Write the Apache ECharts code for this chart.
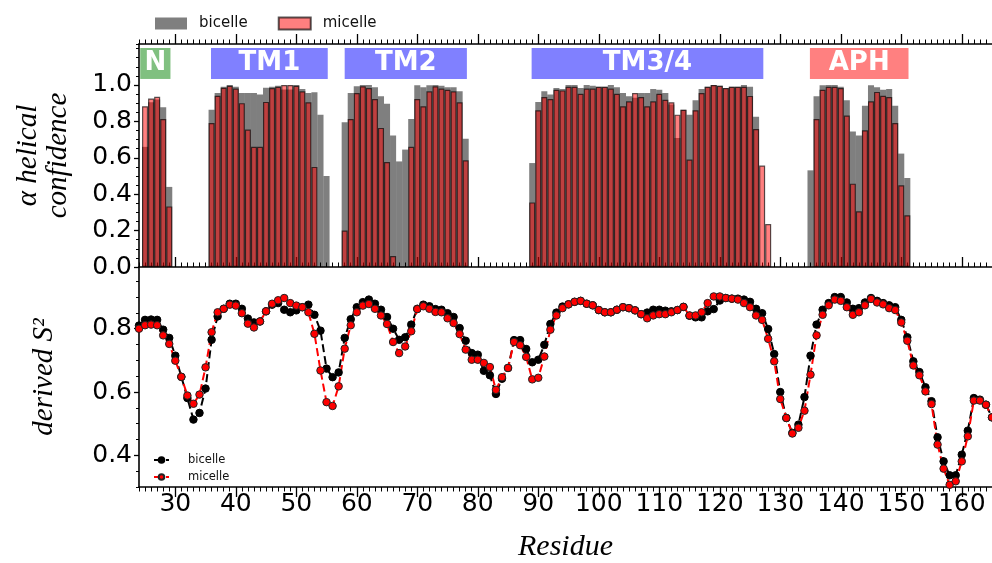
<!DOCTYPE html>
<html>
<head>
<meta charset="utf-8">
<script src="https://cdn.jsdelivr.net/npm/echarts@6/dist/echarts.min.js"></script>
<style>
  html, body { margin: 0; padding: 0; background: #fff; }
  #chart { width: 992px; height: 563px; }
</style>
</head>
<body>
<div id="chart"></div>
<script>
// ---- helical confidence per residue (top panel) ----
const helixResidues = [
  25, 26, 27, 28, 29,
  36, 37, 38, 39, 40, 41, 42, 43, 44, 45, 46, 47, 48, 49, 50, 51, 52, 53, 54, 55,
  58, 59, 60, 61, 62, 63, 64, 65, 66, 67, 68, 69, 70, 71, 72, 73, 74, 75, 76, 77, 78,
  89, 90, 91, 92, 93, 94, 95, 96, 97, 98, 99, 100, 101, 102, 103, 104, 105, 106, 107, 108,
  109, 110, 111, 112, 113, 114, 115, 116, 117, 118, 119, 120, 121, 122, 123, 124, 125, 126, 127, 128,
  135, 136, 137, 138, 139, 140, 141, 142, 143, 144, 145, 146, 147, 148, 149, 150, 151
];
const bicelleHelix = [
  0.66, 0.905, 0.92, 0.877, 0.44,
  0.864, 0.956, 0.99, 1.0, 0.99, 0.956, 0.956, 0.956, 0.947, 0.985, 0.99, 0.995, 0.975, 0.975, 1.0, 0.978, 0.956, 0.96, 0.837, 0.50,
  0.795, 0.956, 0.993, 1.0, 1.0, 0.987, 0.938, 0.897, 0.723, 0.58, 0.645, 0.813, 0.998, 0.987, 0.998, 1.0, 0.996, 0.987, 0.987, 0.965, 0.705,
  0.571, 0.907, 0.965, 0.947, 0.983, 0.978, 1.0, 1.0, 0.983, 1.0, 0.995, 0.99, 0.99, 1.0, 0.987, 0.956, 0.938, 0.93, 0.956, 0.956,
  0.978, 0.974, 0.956, 0.892, 0.709, 0.864, 0.837, 0.916, 0.978, 0.99, 1.0, 0.995, 0.983, 0.99, 0.99, 1.0, 0.99, 0.825, null, null,
  0.531, 0.938, 0.998, 1.0, 1.0, 0.99, 0.916, 0.745, 0.723, 0.886, 0.998, 0.987, 0.974, 0.978, 0.886, 0.623, 0.489
];
const micelleHelix = [
  0.883, 0.925, 0.935, 0.813, 0.333,
  0.791, 0.941, 0.985, 0.995, 0.98, 0.90, 0.755, 0.66, 0.66, 0.907, 0.983, 0.99, 1.0, 1.0, 0.995, 0.965, 0.905, 0.55, null, null,
  0.20, 0.813, 0.956, 0.993, 0.983, 0.923, 0.764, 0.577, 0.06, null, null, 0.66, 0.923, 0.883, 0.965, 0.993, 0.98, 0.974, 0.965, 0.905, 0.586,
  0.355, 0.861, 0.934, 0.923, 0.974, 0.97, 0.99, 0.99, 0.952, 0.98, 0.98, 0.99, 0.99, 0.98, 0.952, 0.883, 0.91, 0.956, 0.934, 0.883,
  0.91, 0.952, 0.919, 0.905, 0.837, 0.864, 0.59, 0.861, 0.956, 0.99, 1.0, 0.995, 0.983, 0.99, 0.99, 0.99, 0.94, 0.758, 0.557, 0.236,
  null, 0.813, 0.974, 0.99, 0.99, 0.983, 0.832, 0.458, 0.306, 0.751, 0.91, 0.962, 0.941, 0.934, 0.791, 0.449, 0.284
];

// ---- domain annotations ----
const domainNames = ['N', 'TM1', 'TM2', 'TM3/4', 'APH'];
const domainStart = [24.2, 35.9, 58.0, 88.9, 134.9];
const domainEnd = [29.2, 55.2, 78.2, 127.2, 151.2];
const domainColors = ['#80c080', '#8080ff', '#8080ff', '#8080ff', '#ff8080'];
const domainBottom = 1.033;
const domainTop = 1.203;

// ---- derived order parameter (bottom panel), residues 24..165 ----
const s2FirstResidue = 24;
const bicelleS2 = [
  0.81, 0.828, 0.829, 0.828, 0.797, 0.771, 0.715, 0.648, 0.581, 0.513,
  0.534, 0.611, 0.765, 0.839, 0.863, 0.879, 0.879, 0.863, 0.832, 0.82,
  0.823, 0.855, 0.876, 0.881, 0.86, 0.852, 0.858, 0.868, 0.876, 0.844,
  0.794, 0.674, 0.647, 0.662, 0.771, 0.83, 0.868, 0.884, 0.892, 0.879,
  0.86, 0.837, 0.8, 0.765, 0.773, 0.813, 0.863, 0.876, 0.871, 0.862,
  0.86, 0.849, 0.837, 0.802, 0.762, 0.723, 0.718, 0.667, 0.653, 0.594,
  0.642, 0.676, 0.764, 0.764, 0.736, 0.694, 0.702, 0.749, 0.815, 0.851,
  0.87, 0.877, 0.885, 0.888, 0.879, 0.874, 0.859, 0.852, 0.852, 0.86,
  0.868, 0.865, 0.858, 0.846, 0.851, 0.86, 0.86, 0.857, 0.855, 0.859,
  0.869, 0.841, 0.836, 0.836, 0.855, 0.862, 0.889, 0.897, 0.895, 0.895,
  0.892, 0.885, 0.863, 0.849, 0.799, 0.72, 0.6, 0.518, 0.471, 0.497,
  0.584, 0.715, 0.813, 0.86, 0.881, 0.9, 0.9, 0.883, 0.863, 0.865,
  0.883, 0.897, 0.888, 0.881, 0.874, 0.868, 0.828, 0.773, 0.697, 0.663,
  0.615, 0.571, 0.457, 0.381, 0.337, 0.337, 0.402, 0.478, 0.581, 0.576,
  0.56, 0.52
];
const micelleS2 = [
  0.80, 0.811, 0.813, 0.811, 0.779, 0.752, 0.699, 0.648, 0.589, 0.563,
  0.592, 0.678, 0.789, 0.852, 0.863, 0.876, 0.873, 0.849, 0.816, 0.804,
  0.823, 0.855, 0.879, 0.89, 0.897, 0.881, 0.873, 0.868, 0.852, 0.784,
  0.668, 0.568, 0.556, 0.618, 0.737, 0.811, 0.852, 0.873, 0.878, 0.863,
  0.842, 0.815, 0.758, 0.723, 0.744, 0.792, 0.862, 0.871, 0.863, 0.853,
  0.852, 0.833, 0.818, 0.783, 0.734, 0.702, 0.702, 0.692, 0.679, 0.607,
  0.647, 0.676, 0.758, 0.748, 0.711, 0.64, 0.645, 0.712, 0.797, 0.842,
  0.865, 0.877, 0.885, 0.888, 0.879, 0.874, 0.859, 0.852, 0.852, 0.86,
  0.868, 0.865, 0.858, 0.846, 0.833, 0.842, 0.846, 0.846, 0.852, 0.859,
  0.869, 0.842, 0.842, 0.852, 0.881, 0.902, 0.902, 0.897, 0.895, 0.892,
  0.881, 0.868, 0.842, 0.828, 0.768, 0.697, 0.578, 0.518, 0.469, 0.487,
  0.541, 0.655, 0.779, 0.844, 0.874, 0.892, 0.888, 0.868, 0.844, 0.852,
  0.874, 0.894, 0.883, 0.877, 0.865, 0.859, 0.82, 0.762, 0.684, 0.653,
  0.602, 0.562, 0.434, 0.358, 0.307, 0.318, 0.381, 0.46, 0.573, 0.573,
  0.56, 0.52
];

// ---- tick labels ----
const residueTicks = [30, 40, 50, 60, 70, 80, 90, 100, 110, 120, 130, 140, 150, 160];
const helixTicks = [0, 0.2, 0.4, 0.6, 0.8, 1.0];
const s2Ticks = [0.4, 0.6, 0.8];

const residueMin = 24, residueMax = 165;

function barPairs(values) {
  const out = [];
  helixResidues.forEach((r, i) => { if (values[i] !== null) out.push([r, values[i]]); });
  return out;
}
function s2Pairs(values) {
  return values.map((v, i) => [s2FirstResidue + i, v]);
}

const black = '#000';
const lineW = 1.6;
const tickFont = { fontFamily: 'DejaVu Sans', fontSize: 25, color: '#000' };
const mathFont = { fontFamily: 'Liberation Serif', fontStyle: 'italic', color: '#000' };

function xMajor(grid, pos, labels) {
  return {
    gridIndex: grid, type: 'value', position: pos, min: residueMin, max: residueMax,
    axisLine: { show: true, onZero: false, lineStyle: { color: black, width: lineW } },
    axisTick: { show: true, inside: false, length: 10, customValues: residueTicks, lineStyle: { color: black, width: 1.3 } },
    axisLabel: labels ? Object.assign({ show: true, margin: 5, customValues: residueTicks }, tickFont) : { show: false },
    splitLine: { show: false }
  };
}
function xMinor(grid, pos) {
  return {
    gridIndex: grid, type: 'value', position: pos, min: residueMin, max: residueMax, interval: 1,
    axisLine: { show: false, onZero: false },
    axisTick: { show: true, inside: false, length: 4.5, lineStyle: { color: black, width: 1 } },
    axisLabel: { show: false }, splitLine: { show: false }
  };
}
function yMinor(grid, min, max) {
  return {
    gridIndex: grid, type: 'value', position: 'left', min: min, max: max, interval: 0.05,
    axisLine: { show: false, onZero: false },
    axisTick: { show: true, inside: false, length: 3, lineStyle: { color: black, width: 1 } },
    axisLabel: { show: false }, splitLine: { show: false }
  };
}

const option = {
  animation: false,
  backgroundColor: '#fff',
  grid: [
    { left: 139, top: 44, width: 854, height: 223 },
    { left: 139, top: 267, width: 854, height: 222 }
  ],
  xAxis: [
    xMajor(0, 'top', false),
    xMinor(0, 'top'),
    Object.assign(xMajor(1, 'bottom', true), {
      name: 'Residue', nameLocation: 'middle', nameGap: 45,
      nameTextStyle: Object.assign({ fontSize: 30 }, mathFont)
    }),
    xMinor(1, 'bottom'),
    xMajor(1, 'top', false),
    xMinor(1, 'top')
  ],
  yAxis: [
    {
      gridIndex: 0, type: 'value', position: 'left', min: 0, max: 1.225,
      axisLine: { show: true, onZero: false, lineStyle: { color: black, width: lineW } },
      axisTick: { show: true, inside: false, length: 5, customValues: helixTicks, lineStyle: { color: black, width: 1.3 } },
      axisLabel: Object.assign({ margin: 7, customValues: helixTicks, formatter: v => v.toFixed(1) }, tickFont),
      splitLine: { show: false },
      name: 'α helical\nconfidence', nameLocation: 'middle', nameRotate: 90, nameGap: 66,
      nameTextStyle: Object.assign({ fontSize: 29, lineHeight: 30 }, mathFont)
    },
    yMinor(0, 0, 1.225),
    {
      gridIndex: 1, type: 'value', position: 'left', min: 0.3, max: 0.995,
      axisLine: { show: true, onZero: false, lineStyle: { color: black, width: lineW } },
      axisTick: { show: true, inside: false, length: 5, customValues: s2Ticks, lineStyle: { color: black, width: 1.3 } },
      axisLabel: Object.assign({ margin: 7, customValues: s2Ticks, formatter: v => v.toFixed(1) }, tickFont),
      splitLine: { show: false },
      name: 'derived S²', nameLocation: 'middle', nameRotate: 90, nameGap: 80,
      nameTextStyle: Object.assign({ fontSize: 29 }, mathFont)
    },
    yMinor(1, 0.3, 0.995)
  ],
  legend: [
    {
      data: ['bicelle', 'micelle'], left: 150, top: 11, icon: 'rect',
      itemWidth: 32, itemHeight: 12, itemGap: 30,
      textStyle: { fontFamily: 'DejaVu Sans', fontSize: 15, color: '#111', padding: [0, 0, 0, 7] }
    },
    {
      data: ['bicelle S2', 'micelle S2'], left: 148, top: 449, orient: 'vertical',
      itemWidth: 15, itemHeight: 7, itemGap: 5,
      formatter: name => name.split(' ')[0],
      textStyle: { fontFamily: 'DejaVu Sans', fontSize: 11.5, color: '#111', padding: [0, 0, 0, 14] }
    }
  ],
  series: [
    {
      name: 'bicelle', type: 'bar', xAxisIndex: 0, yAxisIndex: 0,
      data: barPairs(bicelleHelix), barWidth: 6.06, barGap: '-100%',
      itemStyle: { color: 'rgba(0,0,0,0.5)' },
      markArea: {
        silent: true,
        label: { show: true, position: 'inside', color: '#fff', fontFamily: 'DejaVu Sans', fontWeight: 'bold', fontSize: 26 },
        data: domainNames.map((n, i) => [
          { name: n, xAxis: domainStart[i], yAxis: domainBottom, itemStyle: { color: domainColors[i], opacity: 1, borderWidth: 0 } },
          { xAxis: domainEnd[i], yAxis: domainTop }
        ])
      }
    },
    {
      name: 'micelle', type: 'bar', xAxisIndex: 0, yAxisIndex: 0,
      data: barPairs(micelleHelix), barWidth: 6.06, barGap: '-100%',
      itemStyle: { color: 'rgba(255,0,0,0.5)', borderColor: 'rgba(0,0,0,0.65)', borderWidth: 1.2 }
    },
    {
      name: 'bicelle S2', type: 'line', xAxisIndex: 2, yAxisIndex: 2,
      data: s2Pairs(bicelleS2), symbol: 'circle', symbolSize: 7.5,
      lineStyle: { color: '#000', width: 2, type: [8, 4] },
      itemStyle: { color: '#000', borderColor: '#000', borderWidth: 1 }
    },
    {
      name: 'micelle S2', type: 'line', xAxisIndex: 2, yAxisIndex: 2,
      data: s2Pairs(micelleS2), symbol: 'circle', symbolSize: 7.5,
      lineStyle: { color: '#f00', width: 2, type: [8, 4] },
      itemStyle: { color: '#f00', borderColor: '#222', borderWidth: 1 }
    }
  ]
};

const chart = echarts.init(document.getElementById('chart'), null, { renderer: 'canvas' });
chart.setOption(option);
</script>
</body>
</html>
